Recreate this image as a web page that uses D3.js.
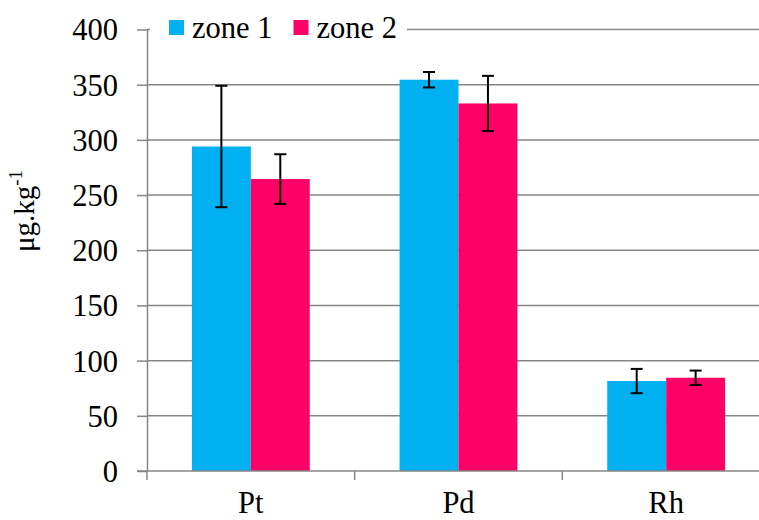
<!DOCTYPE html>
<html>
<head>
<meta charset="utf-8">
<script src="https://cdn.jsdelivr.net/npm/d3@7"></script>
<style>
  html, body { margin: 0; padding: 0; background: #fff; }
  svg { display: block; }
</style>
</head>
<body>
<svg id="chart" width="759" height="520"></svg>
<script>
const categories = ["Pt", "Pd", "Rh"];
const seriesNames = ["zone 1", "zone 2"];
const zone1 = [294, 354.5, 81.5];
const zone2 = [264.5, 333, 84.5];
const zone1Err = [55, 7, 11];
const zone2Err = [22.5, 25, 6.5];
const yTicks = [0, 50, 100, 150, 200, 250, 300, 350, 400];
const colors = ["#00B0F0", "#FF0066"];

(function () {
const FONT = "Liberation Serif";
const FS = 30.5;
const svg = d3.select("#chart");
const mLeft = 147, mRight = 770, mTop = 29.5, mBottom = 471;

const x = d3.scaleBand().domain(categories).range([mLeft, mRight]).padding(0);
const bw = x.bandwidth();
const xs = d3.scaleBand().domain(seriesNames).range([bw * 0.2163, bw * 0.7837]).padding(0);
const y = d3.scaleLinear().domain([0, 400]).range([mBottom, mTop]);

const gridColor = "#868686";

svg.append("g").selectAll("line").data(yTicks.filter(d => d > 0)).join("line")
  .attr("x1", mLeft).attr("x2", mRight)
  .attr("y1", d => y(d)).attr("y2", d => y(d))
  .attr("stroke", gridColor).attr("stroke-width", 1.5);

const data = categories.map((c, i) => ({
  cat: c,
  vals: [
    { s: seriesNames[0], v: zone1[i], e: zone1Err[i], c: colors[0] },
    { s: seriesNames[1], v: zone2[i], e: zone2Err[i], c: colors[1] }
  ]
}));

const groups = svg.append("g").selectAll("g").data(data).join("g")
  .attr("transform", d => `translate(${x(d.cat)},0)`);

groups.selectAll("rect").data(d => d.vals).join("rect")
  .attr("x", d => xs(d.s))
  .attr("width", xs.bandwidth())
  .attr("y", d => y(d.v))
  .attr("height", d => y(0) - y(d.v))
  .attr("fill", d => d.c);

const eb = groups.selectAll("g.err").data(d => d.vals).join("g").attr("class", "err")
  .attr("stroke", "#000").attr("stroke-width", 2);
const cx = d => xs(d.s) + xs.bandwidth() / 2;
eb.append("line")
  .attr("x1", cx).attr("x2", cx)
  .attr("y1", d => y(d.v + d.e)).attr("y2", d => y(d.v - d.e));
eb.append("line")
  .attr("x1", d => cx(d) - 6).attr("x2", d => cx(d) + 6)
  .attr("y1", d => y(d.v + d.e)).attr("y2", d => y(d.v + d.e));
eb.append("line")
  .attr("x1", d => cx(d) - 6).attr("x2", d => cx(d) + 6)
  .attr("y1", d => y(d.v - d.e)).attr("y2", d => y(d.v - d.e));

const yAxis = d3.axisLeft(y).tickValues(yTicks).tickSize(10).tickPadding(19).tickSizeOuter(0);
const gy = svg.append("g").attr("transform", `translate(${mLeft},0)`).call(yAxis);
gy.attr("font-family", FONT).attr("font-size", FS);
gy.select(".domain").attr("stroke", gridColor).attr("stroke-width", 1.5);
gy.selectAll(".tick line").attr("stroke", gridColor).attr("stroke-width", 1.5);
gy.selectAll(".tick text").attr("font-family", FONT).attr("font-size", FS).attr("dy", "0.34em").attr("fill", "#000");

svg.append("line").attr("x1", 137).attr("x2", mRight).attr("y1", y(0)).attr("y2", y(0))
  .attr("stroke", gridColor).attr("stroke-width", 1.5);
const xb = categories.map(c => x(c)).concat([mRight]);
svg.append("g").selectAll("line").data(xb).join("line")
  .attr("x1", d => d).attr("x2", d => d)
  .attr("y1", y(0)).attr("y2", y(0) + 9)
  .attr("stroke", gridColor).attr("stroke-width", 1.5);
svg.append("g").selectAll("text").data(categories).join("text")
  .attr("x", d => x(d) + bw / 2).attr("y", y(0) + 42)
  .attr("font-family", FONT).attr("fill", "#000")
  .attr("text-anchor", "middle").attr("font-size", FS).text(d => d);

const yt = svg.append("text").attr("transform", "translate(34,211) rotate(-90)")
  .attr("font-family", FONT).attr("fill", "#000")
  .attr("text-anchor", "middle").attr("font-size", 29);
yt.append("tspan").text("μg.kg");
yt.append("tspan").attr("font-size", 19).attr("dy", -12).text("-1");

const lg = svg.append("g");
lg.append("rect").attr("x", 150).attr("y", 14).attr("width", 257).attr("height", 32).attr("fill", "#fff");
const items = [{ n: seriesNames[0], c: colors[0], x: 169 }, { n: seriesNames[1], c: colors[1], x: 293.5 }];
const li = lg.selectAll("g").data(items).join("g");
li.append("rect").attr("x", d => d.x).attr("y", 20).attr("width", 15).attr("height", 15).attr("fill", d => d.c);
li.append("text").attr("x", d => d.x + 23).attr("y", 38)
  .attr("font-family", FONT).attr("fill", "#000")
  .attr("font-size", FS).text(d => d.n);
})();
</script>
</body>
</html>
